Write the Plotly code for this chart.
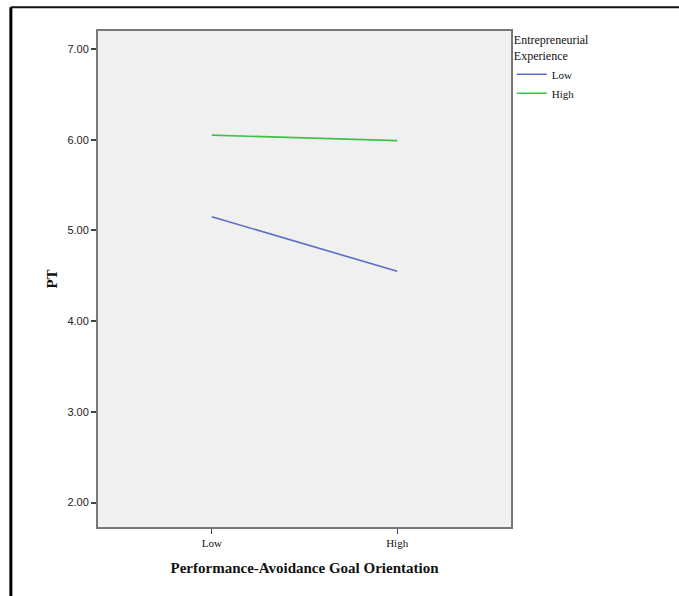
import plotly.graph_objects as go

categories = ["Low", "High"]
series_names = ["Low", "High"]
low_exp = [5.15, 4.55]
high_exp = [6.05, 5.99]
colors = ["#5a6fc4", "#3ec24a"]
y_ticks = [2, 3, 4, 5, 6, 7]
y_tick_labels = ["2.00", "3.00", "4.00", "5.00", "6.00", "7.00"]

fig = go.Figure()
for name, vals, col in zip(series_names, [low_exp, high_exp], colors):
    fig.add_trace(go.Scatter(x=categories, y=vals, mode="lines", name=name,
                             line=dict(color=col, width=1.6)))

serif = "Liberation Serif, Times New Roman, serif"
sans = "Liberation Sans, Arial, sans-serif"

fig.update_layout(
    width=679, height=596,
    margin=dict(l=98, r=168, t=31, b=69),
    paper_bgcolor="white", plot_bgcolor="#f0f0f0",
    showlegend=True,
    legend=dict(x=1.002, y=1.005, xanchor="left", yanchor="top",
                title=dict(text="Entrepreneurial<br>Experience", font=dict(family=serif, size=12, color="#111")),
                font=dict(family=serif, size=11, color="#111"),
                bgcolor="rgba(0,0,0,0)", itemwidth=30, tracegroupgap=0),
    xaxis=dict(type="category", range=[-0.614, 1.614], showgrid=False, zeroline=False,
               showline=True, linecolor="#777", linewidth=2, mirror=True,
               ticks="outside", ticklen=5, tickcolor="#444", tickwidth=1,
               tickfont=dict(family=serif, size=11, color="#111"),
               title=dict(text="<b>Performance-Avoidance Goal Orientation</b>",
                          font=dict(family=serif, size=15, color="#111"), standoff=14)),
    yaxis=dict(range=[1.731, 7.198], showgrid=False, zeroline=False,
               showline=True, linecolor="#777", linewidth=2, mirror=True,
               tickvals=y_ticks, ticktext=y_tick_labels,
               ticks="outside", ticklen=5, tickcolor="#444", tickwidth=2,
               tickfont=dict(family=sans, size=11, color="#222"),
               title=dict(text="<b>PT</b>", font=dict(family=serif, size=15, color="#111"), standoff=6)),
)

# outer frame (top and left edges visible)
fig.add_shape(type="line", xref="paper", yref="paper", x0=-0.211, x1=1.5, y0=1.048, y1=1.048,
              line=dict(color="#111", width=2))
fig.add_shape(type="line", xref="paper", yref="paper", x0=-0.211, x1=-0.211, y0=1.048, y1=-0.2,
              line=dict(color="#000", width=3))

fig.write_html("out.html")
